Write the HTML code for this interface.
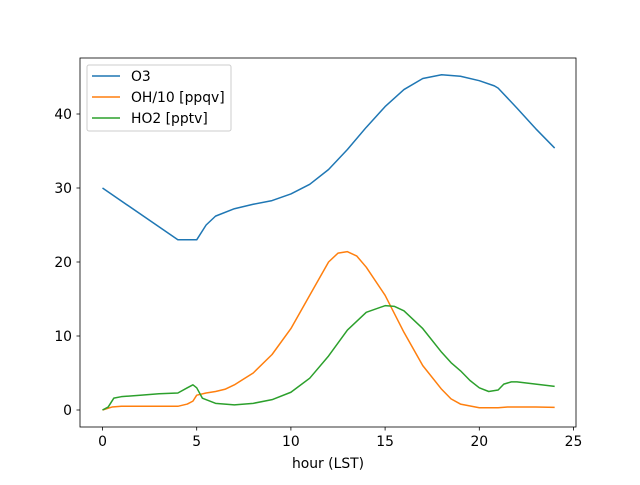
<!DOCTYPE html>
<html><head><meta charset="utf-8"><style>
body{margin:0;background:#fff}
text{font-family:"DejaVu Sans","Liberation Sans",sans-serif;font-size:13.9px;fill:#000}
</style></head><body>
<svg id="chart" width="640" height="480" xmlns="http://www.w3.org/2000/svg">
<rect x="80" y="58" width="496" height="369" fill="#fff" stroke="#000" stroke-width="0.8"/>
<g id="ticks"></g>
<g id="series"></g>
<text x="328" y="468" text-anchor="middle">hour (LST)</text>
<g>
<rect x="87" y="65" width="144" height="66" rx="2" fill="#fff" fill-opacity="0.8" stroke="#ccc"/>
<line x1="92" y1="76" x2="120" y2="76" stroke="#1f77b4" stroke-width="1.5"/>
<text x="131" y="81">O3</text>
<line x1="92" y1="97" x2="120" y2="97" stroke="#ff7f0e" stroke-width="1.5"/>
<text x="131" y="102">OH/10 [ppqv]</text>
<line x1="92" y1="118" x2="120" y2="118" stroke="#2ca02c" stroke-width="1.5"/>
<text x="131" y="123">HO2 [pptv]</text>
</g>
</svg>
<script>
const xTicks=[0,5,10,15,20,25];
const yTicks=[0,10,20,30,40];
const o3X=[0,4,5,5.5,6,7,8,9,10,11,12,13,14,15,16,17,18,19,20,20.8,21,22,23,24];
const o3Y=[30,23,23,25,26.2,27.2,27.8,28.3,29.2,30.5,32.5,35.2,38.2,41,43.3,44.8,45.3,45.1,44.5,43.8,43.5,40.8,38,35.4];
const ohX=[0,0.5,1,2,3,4,4.5,4.8,5,5.5,6,6.5,7,8,9,10,11,12,12.5,13,13.5,14,15,16,17,18,18.5,19,20,21,21.5,22,23,24];
const ohY=[0,0.4,0.5,0.5,0.5,0.5,0.8,1.2,2,2.3,2.5,2.8,3.4,5,7.5,11,15.5,20,21.2,21.4,20.8,19.3,15.5,10.5,6,2.8,1.5,0.8,0.3,0.3,0.4,0.4,0.4,0.35];
const ho2X=[0,0.3,0.6,1,2,3,4,4.5,4.8,5,5.3,6,7,8,9,10,11,12,13,14,15,15.5,16,17,18,18.5,19,19.5,20,20.5,21,21.3,21.7,22,23,24];
const ho2Y=[0,0.4,1.6,1.8,2,2.2,2.3,3,3.4,3,1.6,0.9,0.7,0.9,1.4,2.4,4.3,7.3,10.8,13.2,14.1,14,13.4,11,7.8,6.4,5.3,4,3,2.5,2.7,3.5,3.8,3.8,3.5,3.2];
const sx=v=>102.5+18.84*v, sy=v=>410-7.4*v;
const NS="http://www.w3.org/2000/svg";
const tg=document.getElementById('ticks');
function mk(t,a,p){const e=document.createElementNS(NS,t);for(const k in a)e.setAttribute(k,a[k]);p.appendChild(e);return e;}
xTicks.forEach(v=>{
 const l=mk('line',{x1:sx(v),x2:sx(v),y1:427,y2:430.5,stroke:'#000','stroke-width':0.8},tg);
 
 
 const t=mk('text',{x:sx(v),y:446,'text-anchor':'middle'},tg);t.textContent=v;
 
 
});
yTicks.forEach(v=>{
 const l=mk('line',{x1:76.5,x2:80,y1:sy(v),y2:sy(v),stroke:'#000','stroke-width':0.8},tg);
 
 
 const t=mk('text',{x:72,y:sy(v)+5,'text-anchor':'end'},tg);t.textContent=v;
 
 
});
const sg=document.getElementById('series');
[[o3X,o3Y,'#1f77b4','line-o3'],[ohX,ohY,'#ff7f0e','line-oh'],[ho2X,ho2Y,'#2ca02c','line-ho2']].forEach(([xs,ys,c,n])=>{
 const p=mk('polyline',{points:xs.map((x,i)=>sx(x)+','+sy(ys[i])).join(' '),fill:'none',stroke:c,'stroke-width':1.5,'stroke-linejoin':'round'},sg);
 
 
});
</script>
</body></html>
